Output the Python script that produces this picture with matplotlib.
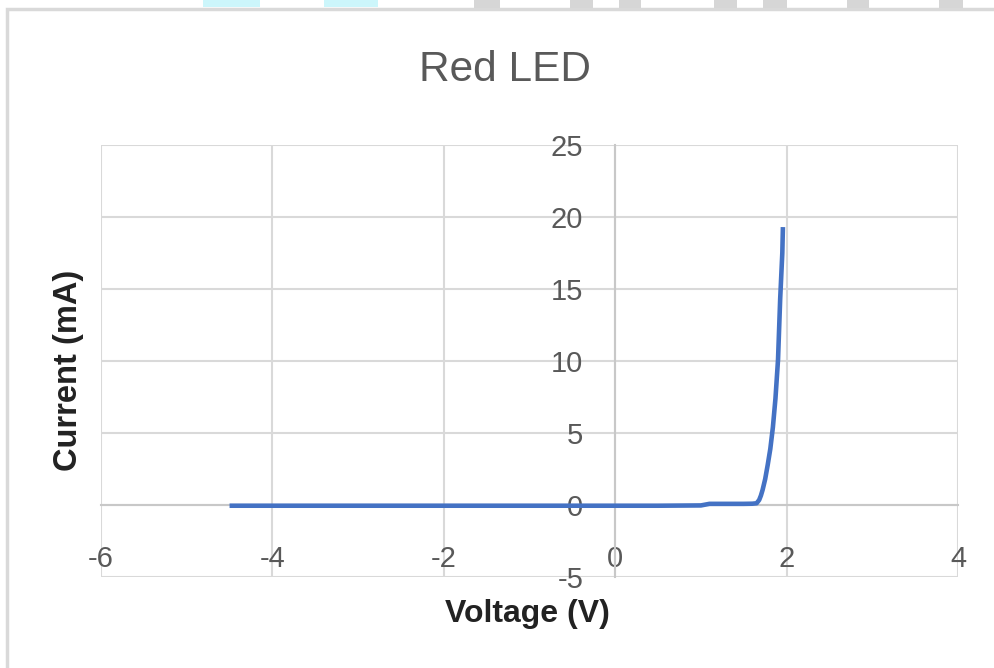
import matplotlib.pyplot as plt
from matplotlib import font_manager
from matplotlib.patches import Rectangle

# --- data ---
voltage = [-4.5, -4.0, -3.0, -2.0, -1.0, 0.0, 0.5, 1.0, 1.1, 1.3, 1.5, 1.6, 1.65,
           1.68, 1.7, 1.72, 1.75, 1.78, 1.81, 1.84, 1.87, 1.9, 1.925, 1.95, 1.957]
current = [-0.05, -0.05, -0.05, -0.05, -0.05, -0.05, -0.05, -0.03, 0.08, 0.08, 0.08, 0.09, 0.12,
           0.35, 0.65, 1.05, 1.8, 2.8, 3.9, 5.4, 7.4, 10.1, 14.3, 17.5, 19.3]

x_ticks = [-6, -4, -2, 0, 2, 4]
y_ticks = [-5, 0, 5, 10, 15, 20, 25]

grid_col = '#d9d9d9'
text_col = '#595959'
line_col = '#4472c4'

installed = {f.name for f in font_manager.fontManager.ttflist}
narrow = 'Liberation Sans Narrow' if 'Liberation Sans Narrow' in installed else 'Liberation Sans'
plt.rcParams['font.family'] = [narrow, 'DejaVu Sans']
plt.rcParams['axes.unicode_minus'] = False

fig = plt.figure(figsize=(9.95, 6.68), dpi=100)
W, H = 995, 668

# outer chart frame and the strip decoration at the top
fig.patches.append(Rectangle((7 / W, -0.1), 1.2, 1.1 - 9 / H, transform=fig.transFigure,
                             fill=False, edgecolor=grid_col, linewidth=2.5))
for x0, x1 in [(474, 500), (570, 593), (619, 641), (714, 737), (763, 787), (847, 869), (939, 963)]:
    fig.patches.append(Rectangle((x0 / W, 1 - 8 / H), (x1 - x0) / W, 8 / H,
                                 transform=fig.transFigure, color='#d6d6d6', linewidth=0))
for x0, x1 in [(203, 260), (324, 378)]:
    fig.patches.append(Rectangle((x0 / W, 1 - 7 / H), (x1 - x0) / W, 7 / H,
                                 transform=fig.transFigure, color='#ccf6fb', linewidth=0))

ax = fig.add_axes([101 / W, 1 - 577 / H, (958 - 101) / W, (577 - 145) / H])
ax.set_xlim(-6, 4)
ax.set_ylim(-5, 25)

ax.plot(voltage, current, color=line_col, linewidth=3.3, solid_capstyle='butt',
        solid_joinstyle='round', zorder=3)

ax.set_xticks(x_ticks)
ax.set_yticks(y_ticks)
ax.grid(True, color=grid_col, linewidth=1.5)
for s in ax.spines.values():
    s.set_visible(False)

for side in ['left', 'bottom']:
    ax.spines[side].set_visible(True)
    ax.spines[side].set_position(('data', 0))
    ax.spines[side].set_color('#c8c8c8')
    ax.spines[side].set_linewidth(1.5)

ax.tick_params(axis='both', length=0, labelsize=21, labelcolor=text_col)
ax.tick_params(axis='x', pad=29)
ax.tick_params(axis='y', pad=23)

fig.text(505 / W, 1 - 70 / H, 'Red LED', ha='center', va='center',
         fontsize=30.5, color=text_col)
fig.text(527 / W, 1 - 614 / H, 'Voltage (V)', ha='center', va='center',
         fontsize=23, fontweight='bold', color='#222222')
fig.text(68 / W, 1 - 370 / H, 'Current (mA)', ha='center', va='center', rotation=90,
         fontsize=23.5, fontweight='bold', color='#222222')

fig.savefig('out.png', dpi=100)
